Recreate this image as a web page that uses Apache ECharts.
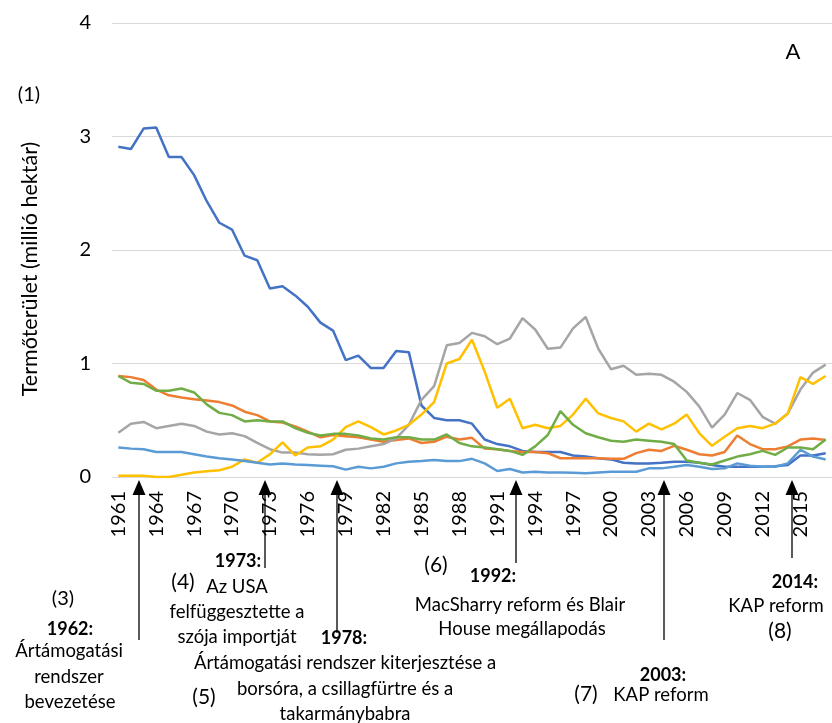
<!DOCTYPE html>
<html>
<head>
<meta charset="utf-8">
<script src="https://cdn.jsdelivr.net/npm/echarts@6/dist/echarts.min.js"></script>
<style>
html,body{margin:0;padding:0;background:#fff;}
#chart{width:832px;height:723px;}
</style>
</head>
<body>
<div id="chart"></div>
<script>
// Years 1961-2017
const years = [];
for (let y = 1961; y <= 2017; y++) years.push(String(y));

const yTicks = [0, 1, 2, 3, 4];

// Series values (million hectares)
const series1 = [2.91,2.89,3.07,3.08,2.82,2.82,2.66,2.43,2.24,2.18,1.95,1.91,1.66,1.68,1.60,1.50,1.36,1.29,1.03,1.07,0.96,0.96,1.11,1.10,0.63,0.52,0.50,0.50,0.47,0.33,0.29,0.27,0.23,0.22,0.22,0.22,0.19,0.18,0.165,0.155,0.125,0.12,0.12,0.125,0.135,0.135,0.125,0.105,0.09,0.09,0.09,0.09,0.095,0.105,0.19,0.19,0.21];
const series2 = [0.89,0.88,0.855,0.77,0.72,0.70,0.685,0.675,0.66,0.63,0.575,0.545,0.49,0.48,0.445,0.40,0.35,0.37,0.36,0.35,0.33,0.31,0.325,0.34,0.30,0.31,0.355,0.33,0.345,0.25,0.245,0.23,0.22,0.22,0.21,0.165,0.165,0.165,0.165,0.16,0.16,0.21,0.24,0.23,0.275,0.24,0.20,0.19,0.22,0.365,0.29,0.245,0.245,0.27,0.33,0.34,0.325];
const series3 = [0.39,0.47,0.485,0.43,0.45,0.47,0.45,0.40,0.375,0.385,0.36,0.30,0.245,0.215,0.215,0.20,0.195,0.20,0.24,0.25,0.27,0.29,0.34,0.46,0.68,0.80,1.16,1.18,1.27,1.24,1.17,1.22,1.40,1.30,1.13,1.14,1.31,1.41,1.13,0.95,0.98,0.90,0.91,0.90,0.84,0.75,0.62,0.435,0.55,0.74,0.68,0.53,0.47,0.56,0.77,0.92,0.99];
const series4 = [0.01,0.01,0.01,0.0,0.0,0.02,0.04,0.05,0.06,0.09,0.155,0.125,0.2,0.305,0.19,0.26,0.27,0.33,0.44,0.49,0.44,0.375,0.41,0.46,0.55,0.66,1.00,1.04,1.21,0.93,0.61,0.69,0.43,0.46,0.43,0.45,0.55,0.69,0.56,0.52,0.49,0.40,0.47,0.42,0.47,0.55,0.385,0.275,0.355,0.43,0.45,0.43,0.47,0.56,0.88,0.82,0.89];
const series5 = [0.26,0.25,0.245,0.22,0.22,0.22,0.20,0.18,0.165,0.155,0.14,0.125,0.11,0.12,0.11,0.105,0.10,0.095,0.065,0.09,0.076,0.09,0.12,0.135,0.14,0.15,0.14,0.14,0.16,0.12,0.053,0.07,0.04,0.047,0.04,0.04,0.038,0.032,0.04,0.047,0.047,0.047,0.076,0.076,0.09,0.105,0.09,0.07,0.076,0.12,0.10,0.09,0.09,0.12,0.24,0.18,0.155];
const series6 = [0.89,0.83,0.82,0.76,0.76,0.78,0.745,0.64,0.565,0.545,0.49,0.50,0.49,0.49,0.43,0.39,0.365,0.38,0.38,0.365,0.34,0.33,0.35,0.35,0.33,0.33,0.375,0.30,0.27,0.26,0.245,0.23,0.195,0.27,0.37,0.58,0.46,0.385,0.35,0.32,0.31,0.33,0.32,0.31,0.29,0.145,0.125,0.11,0.145,0.18,0.20,0.23,0.195,0.26,0.26,0.245,0.33];

const seriesNames = ['Sorozat 1','Sorozat 2','Sorozat 3','Sorozat 4','Sorozat 5','Sorozat 6'];
const seriesData = [series1, series2, series3, series4, series5, series6];
const colors = ['#4472C4','#ED7D31','#A5A5A5','#FFC000','#5B9BD5','#70AD47'];

const yTitle = 'Termőterület (millió hektár)';
const panelLabel = 'A';
const yNote = '(1)';

const FONT = 'Lato, "Noto Sans", sans-serif';

const chart = echarts.init(document.getElementById('chart'), null, {renderer: 'canvas'});

function txt(text, x, y, opts) {
  opts = opts || {};
  return {
    type: 'text', z: 100,
    x: x, y: y, rotation: opts.rotation || 0,
    style: {
      text: text,
      fill: '#000',
      fontFamily: FONT,
      fontSize: opts.size || 18,
      fontWeight: opts.bold ? 'bold' : 'normal',
      align: opts.align || 'center',
      verticalAlign: 'middle'
    }
  };
}
function arrow(x, yTip, yEnd) {
  return [
    {type: 'line', z: 100, shape: {x1: x, y1: yTip + 8, x2: x, y2: yEnd}, style: {stroke: '#000', lineWidth: 1.3}},
    {type: 'polygon', z: 100, shape: {points: [[x, yTip], [x - 6.5, yTip + 15], [x + 6.5, yTip + 15]]}, style: {fill: '#000'}}
  ];
}

const graphics = [].concat(
  [txt(yTitle, 30, 269, {size: 21.5, rotation: Math.PI / 2})],
  [txt(yNote, 29, 95, {size: 20})],
  [txt(panelLabel, 793, 52, {size: 22})],
  arrow(139, 480, 640),
  arrow(265, 480, 568),
  arrow(337, 480, 633),
  arrow(516, 480, 563),
  arrow(664, 480, 640),
  arrow(792, 480, 558),
  [
    txt('(3)', 63, 599, {size: 20}),
    txt('1962:', 70, 629, {bold: true}),
    txt('Ártámogatási', 69, 651, {size: 18.5}),
    txt('rendszer', 69, 677, {size: 18.5}),
    txt('bevezetése', 70, 702, {size: 18.5}),

    txt('1973:', 238, 561, {bold: true}),
    txt('(4)', 183, 582, {size: 21}),
    txt('Az USA', 237, 587, {size: 18.5}),
    txt('felfüggesztette a', 237, 612, {size: 18.5}),
    txt('szója importját', 237, 637, {size: 18.5}),

    txt('1978:', 344, 638, {bold: true}),
    txt('Ártámogatási rendszer kiterjesztése a', 345, 663, {size: 18.5}),
    txt('(5)', 204, 697, {size: 21}),
    txt('borsóra, a csillagfürtre és a', 345, 689, {size: 18.5}),
    txt('takarmánybabra', 345, 714, {size: 18.5}),

    txt('(6)', 436, 565, {size: 21}),
    txt('1992:', 493, 576, {bold: true}),
    txt('MacSharry reform és Blair', 520, 605, {size: 18.5}),
    txt('House megállapodás', 522, 629, {size: 18.5}),

    txt('2003:', 663, 675, {bold: true}),
    txt('(7)', 586, 694, {size: 21}),
    txt('KAP reform', 661, 695, {size: 18.5}),

    txt('2014:', 795, 582, {bold: true}),
    txt('KAP reform', 776, 606, {size: 18.5}),
    txt('(8)', 780, 631, {size: 21})
  ]
);

const option = {
  backgroundColor: '#fff',
  animation: false,
  grid: {left: 112, top: 23, width: 723, height: 454, containLabel: false},
  xAxis: {
    type: 'category',
    data: years,
    boundaryGap: true,
    axisLine: {show: true, lineStyle: {color: '#D9D9D9', width: 1}},
    axisTick: {show: false},
    axisLabel: {interval: 2, rotate: 90, margin: 14, color: '#000', fontSize: 20, fontFamily: FONT},
    splitLine: {show: false}
  },
  yAxis: {
    type: 'value',
    min: yTicks[0], max: yTicks[yTicks.length - 1], interval: 1,
    axisLine: {show: false},
    axisTick: {show: false},
    axisLabel: {margin: 21, color: '#000', fontSize: 20, fontFamily: FONT},
    splitLine: {show: true, lineStyle: {color: '#D9D9D9', width: 1}}
  },
  series: seriesData.map((d, i) => ({
    name: seriesNames[i],
    type: 'line',
    data: d,
    symbol: 'none',
    smooth: false,
    lineStyle: {color: colors[i], width: 2.5},
    itemStyle: {color: colors[i]},
    z: 2 + i
  })),
  graphic: graphics
};
chart.setOption(option);
</script>
</body>
</html>
